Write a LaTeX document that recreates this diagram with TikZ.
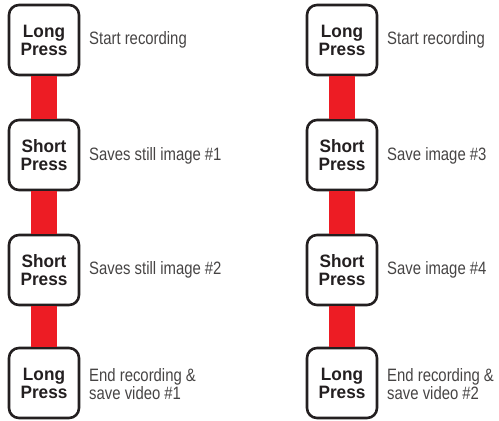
\documentclass[tikz,border=0pt]{standalone}
\usepackage{fontspec}
\setmainfont{Liberation Sans}[FakeStretch=0.83]
\newfontfamily\pressfont{Liberation Sans}[FakeStretch=0.96]
\usepackage{tikz}

\definecolor{barred}{RGB}{237,28,36}
\definecolor{txtgray}{RGB}{35,31,32}
\definecolor{descgray}{RGB}{70,68,68}

\begin{document}
\begin{tikzpicture}[
        x=0.03cm, y=-0.03cm,
        every node/.style={text=txtgray},
        press/.style={
            draw=txtgray,
            fill=white,
            line width=2.2pt,
            rounded corners=0.3cm,
            minimum width=2.1cm,
            minimum height=2.1cm,
            inner sep=0pt,
            align=center,
            font=\pressfont\fontsize{15.3}{15.3}\selectfont\bfseries
        },
        desc/.style={
            anchor=west,
            align=left,
            inner sep=0pt,
            text=descgray,
            font=\fontsize{15.3}{15}\selectfont
        },
        bar/.style={barred, line width=0.78cm}
    ]

    \useasboundingbox (0,0) rectangle (499,421);

    % Left sequence
    \node[press] (l1) at (44,40)  {Long\\Press};
    \node[press] (l2) at (44,155) {Short\\Press};
    \node[press] (l3) at (44,270) {Short\\Press};
    \node[press] (l4) at (44,383) {Long\\Press};

    % Right sequence
    \node[press] (r1) at (342,40)  {Long\\Press};
    \node[press] (r2) at (342,155) {Short\\Press};
    \node[press] (r3) at (342,270) {Short\\Press};
    \node[press] (r4) at (342,383) {Long\\Press};

    % Red bars
    \draw[bar] (l1.south) -- (l2.north);
    \draw[bar] (l2.south) -- (l3.north);
    \draw[bar] (l3.south) -- (l4.north);
    \draw[bar] (r1.south) -- (r2.north);
    \draw[bar] (r2.south) -- (r3.north);
    \draw[bar] (r3.south) -- (r4.north);

    % Descriptions
    \node[desc] (dl1) at (89,40)  {Start recording};
    \node[desc] (dl2) at (89,156) {Saves still image \#1};
    \node[desc] (dl3) at (89,270) {Saves still image \#2};
    \node[desc] (dl4) at (89,384) {End recording \&\\save video \#1};
    \node[desc] (dr1) at (387,40)  {Start recording};
    \node[desc] (dr2) at (387,156) {Save image \#3};
    \node[desc] (dr3) at (387,270) {Save image \#4};
    \node[desc] (dr4) at (387,384) {End recording \&\\save video \#2};

\end{tikzpicture}
\end{document}
